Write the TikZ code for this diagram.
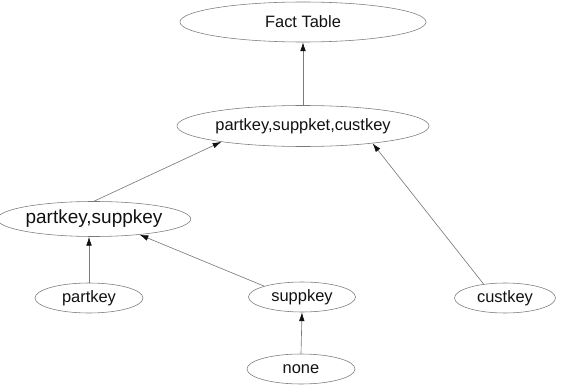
\documentclass[tikz,border=0pt]{standalone}
\usepackage{fontspec}
\setmainfont{Liberation Sans}
\usetikzlibrary{arrows.meta,shapes.geometric}
\definecolor{ink}{HTML}{111111}
\definecolor{faded}{HTML}{7A7A7A}
\begin{document}
\begin{tikzpicture}[x=0.025cm,y=-0.025cm]
    \tikzset{
      key/.style={ellipse,draw=faded,line width=0.4pt,inner sep=0pt,text=ink,font=\fontsize{11.7}{14}\selectfont},
      link/.style={draw=faded,line width=0.45pt,-{Latex[length=2.2mm,width=1.4mm,color=ink]}}
    }
    \useasboundingbox (0,0) rectangle (561,388);
    \node[key,minimum width=6.15cm,minimum height=1.0cm] (fact) at (303,22) {Fact Table};
    \node[key,minimum width=6.3cm,minimum height=1.025cm] (psc) at (303,126) {partkey,suppket,custkey};
    \node[key,minimum width=4.3cm,minimum height=0.875cm,font=\fontsize{13.5}{16}\selectfont] (pks) at (94,219) {partkey,suppkey};
    \node[key,minimum width=2.7cm,minimum height=0.75cm] (pk) at (89,298) {partkey};
    \node[key,minimum width=2.675cm,minimum height=0.75cm] (sk) at (302,297) {suppkey};
    \node[key,minimum width=2.525cm,minimum height=0.75cm] (ck) at (505,298) {custkey};
    \node[key,minimum width=2.7cm,minimum height=0.75cm] (none) at (301,369) {none};
    % roll-up edges
    \draw[link] (psc.north) -- (fact.south);
    \draw[link] (pks.north) -- (psc.191);
    \draw[link] (ck.147) -- (psc.346);
    \draw[link] (pk.north) -- (pk.north |- pks.south);
    \draw[link] (sk.164) -- (pks.341);
    \draw[link] (none.north) -- (sk.south);
  \end{tikzpicture}
\end{document}
